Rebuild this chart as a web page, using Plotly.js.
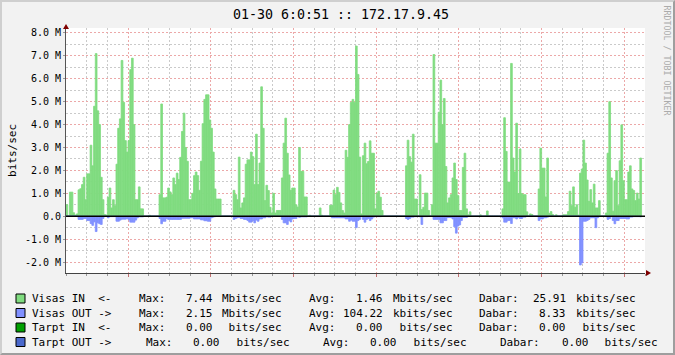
<!DOCTYPE html>
<html><head><meta charset="utf-8">
<script src="https://cdn.plot.ly/plotly-3.0.1.min.js"></script>
<style>
html,body{margin:0;padding:0;background:#f2f2f2;}
#wrap{position:relative;width:675px;height:355px;}
#chart{width:675px;height:355px;}
#frame{position:absolute;left:0;top:0;width:675px;height:355px;box-sizing:border-box;border-top:2px solid #cfcfcf;border-left:2px solid #cfcfcf;border-right:2px solid #9e9e9e;border-bottom:2px solid #9e9e9e;pointer-events:none;}
</style>
</head><body>
<div id="wrap"><div id="chart"></div><div id="frame"></div></div>
<script>
// ---- data (Mbit/s, one value per 30-minute slot, starting Fri 06:00) ----
const SLOT_HOURS = 0.5;
const dayLabels = ['Fri','Sat','Sun','Mon','Tue','Wed','Thu'];
const dayNoonHours = [6, 30, 54, 78, 102, 126, 150];
const midnightHours = [18, 42, 66, 90, 114, 138, 162];
const yTickVals = [8, 7, 6, 5, 4, 3, 2, 1, 0, -1, -2];
const yTickText = ['8.0 M','7.0 M','6.0 M','5.0 M','4.0 M','3.0 M','2.0 M','1.0 M','0.0','-1.0 M','-2.0 M'];

const visasIn = [
  0.5, 0, 1.05, 1.05, 0.15, 0.05, 0.1, 1.15, 1.2, 1.38, 1.7, 0.72, 1.85, 1.85, 3.1, 2.2, 4.8, 7.1, 4.6, 4.0, 1.7, 0.72, 0.07, 0.05,
  0.83, 1.23, 0.36, 0.72, 0.46, 2.27, 3.84, 4.25, 6.8, 4.97, 3.3, 2.8, 3.3, 6.4, 6.9, 4.0, 0.72, 0.72, 1.28, 0.32, 0.32, 0, 0, 0,
  0.04, 0, 0, 0, 0, 0, 0.94, 4.9, 0.8, 0.8, 0.83, 1.23, 1.06, 0.94, 1.67, 1.38, 1.88, 1.6, 2.57, 3.7, 4.5, 3.0, 2.4, 0.72,
  0.72, 1.0, 1.77, 1.93, 1.77, 1.13, 2.4, 4.04, 5.1, 5.3, 5.3, 4.2, 3.84, 2.8, 1.19, 0.75, 0.75, 0.75, 0, 0, 0, 0, 0, 0,
  0, 1.13, 0.94, 0.72, 2.58, 0.36, 0.58, 0.8, 2.27, 2.46, 2.46, 2.8, 2.6, 1.38, 3.58, 1.38, 2.32, 5.65, 3.84, 0.68, 1.35, 1.12, 0.39, 0.14,
  1.0, 0.14, 0.25, 0.25, 0.25, 1.67, 3.19, 4.28, 2.75, 1.8, 1.13, 1.23, 1.23, 0.5, 0.4, 3.0, 1.96, 1.96, 0.84, 0.84, 0, 0.04, 0, 0,
  0, 0, 0, 0.36, 0.04, 0, 0, 0, 0, 0.48, 0.48, 1.14, 0.94, 1.26, 1.04, 0.58, 0.25, 0.14, 2.88, 2.57, 4.0, 4.97, 5.1, 4.97,
  7.43, 6.19, 2.58, 0.1, 2.64, 3.19, 2.29, 2.39, 3.29, 2.75, 2.75, 0.32, 1.01, 1.09, 0.83, 0.25, 0, 0, 0, 0, 0, 0, 0, 0,
  0, 0, 0, 0, 0, 2.2, 3.32, 2.6, 2.36, 3.58, 0.75, 0.75, 0, 1.81, 0.29, 0.39, 1.01, 1.01, 0.25, 0, 0.5, 7.06, 3.19, 3.19,
  4.54, 5.94, 4.0, 5.14, 2.17, 0.58, 0.8, 0.94, 1.67, 2.32, 1.6, 0.9, 0.25, 0.25, 2.13, 2.75, 0.32, 0.06, 0.19, 0, 0, 0, 0, 0,
  0.06, 0, 0, 0, 0.23, 0, 0, 0, 0, 0, 0, 0, 0, 0.32, 4.3, 2.83, 1.49, 1.49, 6.67, 2.54, 1.93, 4.06, 0.99, 2.93,
  0.99, 0.94, 0.94, 0.19, 0, 0.1, 0.07, 0, 0, 0, 1.19, 2.97, 2.1, 2.1, 0.84, 2.54, 0.12, 0.2, 0.07, 0, 0.06, 0, 0, 0,
  0.06, 0.06, 0.06, 0.2, 1.09, 0.46, 1.28, 0.39, 0.5, 0.05, 1.88, 2.06, 3.32, 2.32, 1.58, 0.65, 1.16, 0.58, 1.4, 0.36, 0.36, 0.68, 0, 0,
  0, 0.14, 2.75, 5.0, 1.67, 0.22, 1.55, 1.99, 0.46, 2.42, 3.99, 1.55, 0.72, 0.72, 1.93, 2.2, 1.19, 1.12, 0.68, 1.01, 0.75, 2.54, null, null
];

const visasOut = [
  0, 0, 0, 0, 0, 0, 0, -0.14, -0.14, -0.14, -0.1, -0.1, -0.19, -0.19, -0.32, -0.4, -0.25, -0.67, -0.29, -0.33, -0.36, -0.1, -0.01, -0.01,
  -0.07, -0.02, -0.02, -0.02, -0.02, -0.22, -0.22, -0.17, -0.13, -0.13, -0.13, -0.1, -0.16, -0.26, -0.26, -0.26, -0.17, -0.07, -0.03, -0.03, -0.03, 0, 0, 0,
  0, 0, 0, 0, 0, 0, -0.1, -0.33, -0.22, -0.22, -0.1, -0.14, -0.14, -0.14, -0.14, -0.14, -0.14, -0.14, -0.14, -0.09, -0.09, -0.09, -0.09, -0.09,
  -0.07, -0.07, -0.12, -0.12, -0.12, -0.12, -0.16, -0.16, -0.2, -0.2, -0.22, -0.22, -0.07, -0.04, -0.02, -0.01, -0.01, -0.01, 0, 0, 0, 0, 0, 0,
  0, -0.14, -0.1, -0.07, -0.05, -0.1, -0.1, -0.14, -0.14, -0.19, -0.26, -0.26, -0.19, -0.29, -0.17, -0.22, -0.12, -0.12, -0.07, -0.07, -0.02, -0.04, -0.04, -0.01,
  -0.01, -0.01, -0.01, -0.01, -0.01, -0.14, -0.29, -0.29, -0.36, -0.19, -0.25, -0.12, -0.1, -0.1, -0.02, -0.05, -0.03, -0.03, -0.03, -0.03, 0, 0, 0, 0,
  0, 0, 0, 0, 0, 0, 0, 0, 0, -0.01, -0.07, -0.07, -0.07, -0.07, -0.07, -0.07, -0.07, -0.07, -0.12, -0.12, -0.22, -0.17, -0.22, -0.22,
  -0.5, -0.19, -0.14, -0.02, -0.14, -0.26, -0.14, -0.1, -0.19, -0.12, -0.04, -0.02, -0.02, -0.02, -0.02, -0.01, 0, 0, 0, 0, 0, 0, 0, 0,
  0, 0, 0, 0, 0, -0.1, -0.14, -0.1, -0.04, -0.04, -0.02, -0.02, 0, -0.03, -0.36, -0.02, -0.02, -0.02, -0.01, 0, -0.01, -0.14, -0.14, -0.14,
  -0.14, -0.29, -0.29, -0.19, -0.19, -0.06, -0.06, -0.06, -0.12, -0.46, -0.74, -0.43, -0.38, -0.19, -0.05, -0.05, -0.05, -0.01, 0, 0, 0, 0, 0, 0,
  0, 0, 0, 0, 0, 0, 0, 0, 0, 0, 0, 0, 0, -0.07, -0.26, -0.26, -0.19, -0.19, -0.32, -0.07, -0.07, -0.12, -0.05, -0.1,
  -0.1, -0.04, -0.04, 0, 0, 0, 0, 0, 0, 0, -0.19, -0.12, -0.12, -0.07, -0.07, -0.04, 0, 0, 0, 0, 0, 0, 0, 0,
  0, 0, 0, -0.01, 0, 0, 0, 0, 0, 0, -2.13, -2.04, -0.22, -0.22, -0.19, -0.14, -0.07, -0.07, -0.07, -0.5, -0.07, -0.02, 0, 0,
  0, -0.02, -0.14, -0.1, -0.02, -0.19, -0.33, -0.19, -0.19, -0.1, -0.1, -0.1, -0.1, -0.12, -0.12, -0.04, -0.04, -0.02, -0.02, -0.02, -0.02, -0.03, null, null
];

const legendNames = ['Visas IN  <-', 'Visas OUT ->', 'Tarpt IN  <-', 'Tarpt OUT ->'];
const legendMax = ['7.44', '2.15', '0.00', '0.00'];
const legendMaxUnit = ['Mbits/sec', 'Mbits/sec', ' bits/sec', ' bits/sec'];
const legendAvg = ['1.46', '104.22', '0.00', '0.00'];
const legendAvgUnit = ['Mbits/sec', 'kbits/sec', ' bits/sec', ' bits/sec'];
const legendCur = ['25.91', '8.33', '0.00', '0.00'];
const legendCurUnit = ['kbits/sec', 'kbits/sec', ' bits/sec', ' bits/sec'];

// ---- styling / layout ----
const FONT = 'DejaVu Sans Mono, monospace';
const colIn = '#80dc80', colOut = '#8090ff';
const swatchColors = [colIn, colOut, '#00a000', '#4a68cc'];
const L = 66, T = 28, W = 579, H = 245, FW = 675, FH = 355;
const px = x => (x - L) / W;
const py = y => (T + H - y) / H;
const nb = s => s.replace(/ /g, '\u00a0');

const slotX = visasIn.map((_, i) => i * SLOT_HOURS);

const traces = [
  {type: 'bar', x: slotX, y: visasIn, offset: 0, width: SLOT_HOURS,
   marker: {color: colIn, line: {width: 0.8, color: colIn}}, hoverinfo: 'skip'},
  {type: 'bar', x: slotX, y: visasOut, offset: 0, width: SLOT_HOURS,
   marker: {color: colOut, line: {width: 0.8, color: colOut}}, hoverinfo: 'skip'}
];

const gridDash = '2px,2px';
const redGrid = '#eca8a8', grayGrid = '#cacaca';

const shapes = [
  {type: 'line', xref: 'paper', yref: 'y', x0: 0, x1: 1, y0: 0, y1: 0,
   line: {color: '#000', width: 1.5}, layer: 'above'},
  {type: 'path', xref: 'paper', yref: 'paper', xsizemode: 'pixel', ysizemode: 'pixel',
   xanchor: 0, yanchor: 1, path: 'M -3 -1 L 3 -1 L 0 4 Z', fillcolor: '#7f0000', line: {width: 0}},
  {type: 'path', xref: 'paper', yref: 'paper', xsizemode: 'pixel', ysizemode: 'pixel',
   xanchor: 1, yanchor: 0, path: 'M 1 -3 L 1 3 L 6 0 Z', fillcolor: '#7f0000', line: {width: 0}}
];

const rowY = [298.5, 313, 327.5, 342];
const colsStd = {max: 138, maxVal: 214, maxUnit: 220.5, avg: 308, avgVal: 384, avgUnit: 391.5, cur: 477.6, curVal: 567, curUnit: 575};
const colsShift = {max: 145.3, maxVal: 221, maxUnit: 229, avg: 322.4, avgVal: 397.6, avgUnit: 405.8, cur: 499, curVal: 589.5, curUnit: 596.7};

const annotations = [];
function txt(x, y, s, anchor, extra) {
  annotations.push(Object.assign({
    xref: 'paper', yref: 'paper', x: px(x), y: py(y), text: nb(s),
    xanchor: anchor, yanchor: 'middle', showarrow: false, borderpad: 0,
    font: {family: FONT, size: 11, color: '#000'}
  }, extra || {}));
}
legendNames.forEach((name, r) => {
  const c = r === 3 ? colsShift : colsStd;
  const y = rowY[r];
  shapes.push({type: 'rect', xref: 'paper', yref: 'paper',
    x0: px(16), x1: px(25), y0: py(y + 4.5), y1: py(y - 4.5),
    fillcolor: swatchColors[r], line: {color: '#000', width: 1}});
  txt(31, y, name, 'left');
  txt(c.max, y, 'Max:', 'left');
  txt(c.maxVal, y, legendMax[r], 'right');
  txt(c.maxUnit, y, legendMaxUnit[r], 'left');
  txt(c.avg, y, 'Avg:', 'left');
  txt(c.avgVal, y, legendAvg[r], 'right');
  txt(c.avgUnit, y, legendAvgUnit[r], 'left');
  txt(c.cur, y, 'Dabar:', 'left');
  txt(c.curVal, y, legendCur[r], 'right');
  txt(c.curUnit, y, legendCurUnit[r], 'left');
});
// vertical watermark
annotations.push({xref: 'paper', yref: 'paper', x: px(666.5), y: py(60), text: 'RRDTOOL / TOBI OETIKER',
  textangle: 90, showarrow: false, xanchor: 'center', yanchor: 'middle',
  font: {family: FONT, size: 8.3, color: '#ababab'}});

const layout = {
  width: FW, height: FH,
  margin: {l: L, r: FW - L - W, t: T, b: FH - T - H, pad: 0},
  paper_bgcolor: '#f2f2f2', plot_bgcolor: '#ffffff',
  font: {family: FONT, size: 10, color: '#000'},
  showlegend: false, barmode: 'overlay', bargap: 0,
  title: {text: '01-30 6:0:51 :: 172.17.9.45', font: {family: FONT, size: 13.3, color: '#000'},
          xref: 'container', x: 341 / FW, xanchor: 'center',
          yref: 'container', y: 1 - 14 / FH, yanchor: 'middle'},
  xaxis: {range: [0, 168], tickmode: 'array', tickvals: midnightHours, ticktext: midnightHours.map(() => ''),
          showgrid: true, gridcolor: redGrid, griddash: gridDash, gridwidth: 1,
          ticks: 'outside', ticklen: 3, tickcolor: '#c07070',
          showline: true, linecolor: '#444', linewidth: 1, zeroline: false, fixedrange: true,
          minor: {tickmode: 'linear', tick0: 0, dtick: 6, showgrid: true, gridcolor: grayGrid,
                  griddash: gridDash, gridwidth: 1, ticks: 'outside', ticklen: 2, tickcolor: '#999'}},
  xaxis2: {overlaying: 'x', anchor: 'y', side: 'bottom', range: [0, 168],
           tickmode: 'array', tickvals: dayNoonHours, ticktext: dayLabels,
           showgrid: false, zeroline: false, ticks: '', showline: false,
           tickfont: {family: FONT, size: 10, color: '#000'}, fixedrange: true},
  yaxis: {range: [-2.48, 8.217], tickmode: 'array', tickvals: yTickVals, ticktext: yTickText,
          showgrid: true, gridcolor: redGrid, griddash: gridDash, gridwidth: 1,
          minor: {tickmode: 'linear', tick0: 0, dtick: 0.5, showgrid: true, gridcolor: grayGrid,
                  griddash: gridDash, gridwidth: 1},
          zeroline: false, showline: true, linecolor: '#555', linewidth: 1,
          ticks: 'outside', ticklen: 2, tickcolor: '#999', fixedrange: true,
          tickfont: {family: FONT, size: 10, color: '#000'},
          title: {text: 'bits/sec', font: {family: FONT, size: 11, color: '#000'}, standoff: 6}},
  shapes: shapes,
  annotations: annotations
};

Plotly.newPlot('chart', traces, layout, {displayModeBar: false, staticPlot: true});
</script>
</body></html>
